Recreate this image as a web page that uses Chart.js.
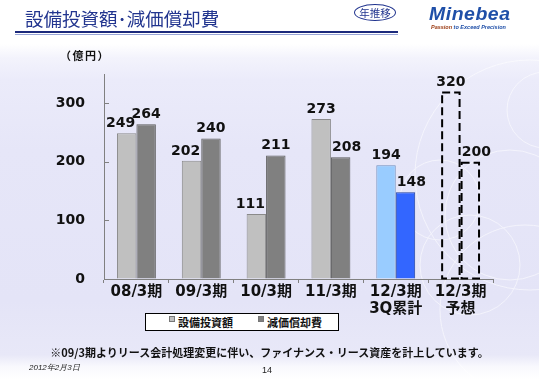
<!DOCTYPE html>
<html>
<head>
<meta charset="utf-8">
<script src="https://cdn.jsdelivr.net/npm/chart.js@4/dist/chart.umd.min.js"></script>
<style>
  body { margin: 0; }
  #page {
    position: relative;
    width: 539px;
    height: 380px;
    overflow: hidden;
    font-family: "DejaVu Sans", "Noto Sans CJK JP", sans-serif;
    background: linear-gradient(to bottom, #ffffff 0px, #ffffff 44px, #f3f3fc 58px, #ebebfa 80px,
      #e6e6f8 150px, #e4e4f7 300px, #e8e8f8 355px, #f8f8fd 366px, #ffffff 380px);
  }
  #deco { position: absolute; left: 0; top: 0; }
  #container { position: absolute; left: 0; top: 0; }
  .abs { position: absolute; white-space: nowrap; }
  #title { left: 25px; top: 5px; font-family: "Noto Sans CJK JP"; font-size: 18.5px; color: #22358f; }
  #rule { left: 15px; top: 31px; width: 383px; height: 2px; background: #1c2a7c; }
  #rule2 { left: 15px; top: 34px; width: 383px; height: 1px; background: #9aa6d8; }
  #oval { left: 354px; top: 4px; width: 40px; height: 15px; border: 1.5px solid #22358f; border-radius: 50%;
    font-family: "Noto Sans CJK JP"; font-size: 10.5px; line-height: 15px; text-align: center; color: #22358f; }
  #logo { left: 429px; top: 4px; font-family: "Liberation Sans"; font-weight: bold; font-style: italic;
    font-size: 18px; color: #1f4fa8; letter-spacing: 0.5px; transform: scaleX(1.08); transform-origin: left; }
  #tag { left: 431px; top: 24px; font-family: "Liberation Sans"; font-weight: bold; font-style: italic; font-size: 5.5px; color: #1f4fa8; }
  #tag span { color: #9a3a12; }
  #unit { left: 60px; top: 47px; font-family: "Noto Sans CJK JP"; font-weight: bold; font-size: 11px; color: #111; letter-spacing: 1.5px; }
  #legend { left: 145px; top: 313px; width: 192px; height: 16px; border: 1px solid #000; background: #fff;
    font-family: "Noto Sans CJK JP"; font-weight: bold; font-size: 11px; line-height: 16px; color: #111; }
  #legend .item { position: absolute; top: 0; }
  #legend .sw { display: inline-block; width: 4px; height: 4px; border: 1px solid #777; margin-right: 3px; vertical-align: 5px; }
  #note { left: 0; width: 539px; top: 344px; text-align: center; font-family: "Noto Sans CJK JP"; font-weight: bold; font-size: 11px; color: #111; }
  #date { left: 29px; top: 362px; font-family: "Liberation Sans"; font-style: italic; font-size: 8px; color: #222; }
  #pageno { left: 262px; top: 365px; font-family: "Liberation Sans"; font-size: 9px; color: #222; }
</style>
</head>
<body>
<div id="page">
  <svg id="deco" width="539" height="380">
    <g fill="none" stroke="#ffffff" stroke-width="1" opacity="0.55">
      <circle cx="530" cy="175" r="115" />
      <circle cx="510" cy="215" r="65" />
      <circle cx="470" cy="265" r="50" />
      <circle cx="440" cy="200" r="40" />
      <circle cx="545" cy="110" r="38" />
      <circle cx="525" cy="310" r="85" />
    </g>
  </svg>
  <canvas id="container" width="539" height="380"></canvas>
  <div class="abs" id="title">設備投資額･減価償却費</div>
  <div class="abs" id="rule"></div>
  <div class="abs" id="rule2"></div>
  <div class="abs" id="oval">年推移</div>
  <div class="abs" id="logo">Minebea</div>
  <div class="abs" id="tag"><span>Passion</span> to Exceed Precision</div>
  <div class="abs" id="unit">（億円）</div>
  <div class="abs" id="legend">
    <span class="item" style="left:23px"><span class="sw" style="background:#c0c0c0"></span>設備投資額</span>
    <span class="item" style="left:112px"><span class="sw" style="background:#808080"></span>減価償却費</span>
  </div>
  <div class="abs" id="note">※09/3期よりリース会計処理変更に伴い、ファイナンス・リース資産を計上しています。</div>
  <div class="abs" id="date">2012年2月3日</div>
  <div class="abs" id="pageno">14</div>
</div>
<script>
const CATEGORIES = ["08/3期", "09/3期", "10/3期", "11/3期", ["12/3期", "3Q累計"], ["12/3期", "予想"]];
const SERIES_NAMES = ["設備投資額", "減価償却費"];

const CAPEX = [249, 202, 111, 273, 194, 320];
const DEPRECIATION = [264, 240, 211, 208, 148, 200];

const Y_TICKS = [0, 100, 200, 300];
const Y_MAX = 350;

// last category is the forecast, drawn as dashed outline
const FORECAST_INDEX = 5;

const FONT = "'DejaVu Sans', 'Noto Sans CJK JP', sans-serif";

const capexFill = ["#c0c0c0", "#c0c0c0", "#c0c0c0", "#c0c0c0", "#99ccff", "rgba(0,0,0,0)"];
const capexBorder = ["#8a8a8a", "#8a8a8a", "#8a8a8a", "#8a8a8a", "#6f8fbf", "rgba(0,0,0,0)"];
const deprFill = ["#808080", "#808080", "#808080", "#808080", "#3366ff", "rgba(0,0,0,0)"];
const deprBorder = ["#5c5c5c", "#5c5c5c", "#5c5c5c", "#5c5c5c", "#1f3f9f", "rgba(0,0,0,0)"];

const forecastOutline = {
  id: "forecastOutline",
  afterDatasetsDraw(chart) {
    const ctx = chart.ctx;
    ctx.save();
    ctx.strokeStyle = "#000";
    ctx.lineWidth = 2;
    ctx.setLineDash([8, 4]);
    chart.data.datasets.forEach((ds, di) => {
      const bar = chart.getDatasetMeta(di).data[FORECAST_INDEX];
      const left = bar.x - bar.width / 2 + 1;
      const right = bar.x + bar.width / 2 - 1;
      ctx.strokeRect(left, bar.y + 1, right - left, bar.base - bar.y - 1);
    });
    ctx.restore();
  },
};

const valueLabels = {
  id: "valueLabels",
  afterDatasetsDraw(chart) {
    const ctx = chart.ctx;
    ctx.save();
    ctx.font = "bold 14px " + FONT;
    ctx.fillStyle = "#111";
    ctx.textAlign = "center";
    ctx.textBaseline = "alphabetic";
    const sets = chart.data.datasets;
    sets.forEach((ds, di) => {
      const other = sets[1 - di].data;
      chart.getDatasetMeta(di).data.forEach((bar, i) => {
        const v = ds.data[i];
        // the lower of the pair slides outwards so the labels do not collide
        let dx = 0;
        if (v < other[i]) dx = di === 0 ? -6 : 6;
        ctx.fillText(String(v), bar.x + dx, bar.y - 6);
      });
    });
    ctx.restore();
  },
};

const insideTicks = {
  id: "insideTicks",
  afterDraw(chart) {
    const ctx = chart.ctx;
    const y = chart.scales.y;
    ctx.save();
    ctx.strokeStyle = "#808080";
    ctx.lineWidth = 1;
    Y_TICKS.forEach((t) => {
      const py = Math.round(y.getPixelForValue(t)) + 0.5;
      ctx.beginPath();
      ctx.moveTo(chart.chartArea.left, py);
      ctx.lineTo(chart.chartArea.left + 5, py);
      ctx.stroke();
    });
    ctx.restore();
  },
};

new Chart(document.getElementById("container"), {
  type: "bar",
  data: {
    labels: CATEGORIES,
    datasets: [
      {
        label: SERIES_NAMES[0],
        data: CAPEX,
        backgroundColor: capexFill,
        borderColor: capexBorder,
        borderWidth: 1,
      },
      {
        label: SERIES_NAMES[1],
        data: DEPRECIATION,
        backgroundColor: deprFill,
        borderColor: deprBorder,
        borderWidth: 1,
      },
    ],
  },
  options: {
    responsive: false,
    animation: false,
    devicePixelRatio: 1,
    layout: { padding: { top: 74, right: 46, bottom: 58, left: 0 } },
    datasets: { bar: { categoryPercentage: 0.6, barPercentage: 1.0 } },
    plugins: { legend: { display: false }, tooltip: { enabled: false } },
    scales: {
      x: {
        afterFit: (s) => { s.height = 43; },
        grid: { display: true, drawOnChartArea: false, offset: true, tickLength: 4, color: "#808080" },
        border: { color: "#808080", width: 1 },
        ticks: {
          color: "#111",
          padding: 1,
          maxRotation: 0,
          autoSkip: false,
          font: { family: FONT, size: 15, weight: "bold", lineHeight: 1.1 },
        },
      },
      y: {
        min: 0,
        max: Y_MAX,
        afterFit: (s) => { s.width = 104; },
        afterBuildTicks: (s) => { s.ticks = Y_TICKS.map((v) => ({ value: v })); },
        grid: { display: true, drawOnChartArea: false, drawTicks: false },
        border: { color: "#808080", width: 1 },
        ticks: {
          color: "#111",
          padding: 19,
          font: { family: FONT, size: 14, weight: "bold" },
        },
      },
    },
  },
  plugins: [forecastOutline, valueLabels, insideTicks],
});
</script>
</body>
</html>
